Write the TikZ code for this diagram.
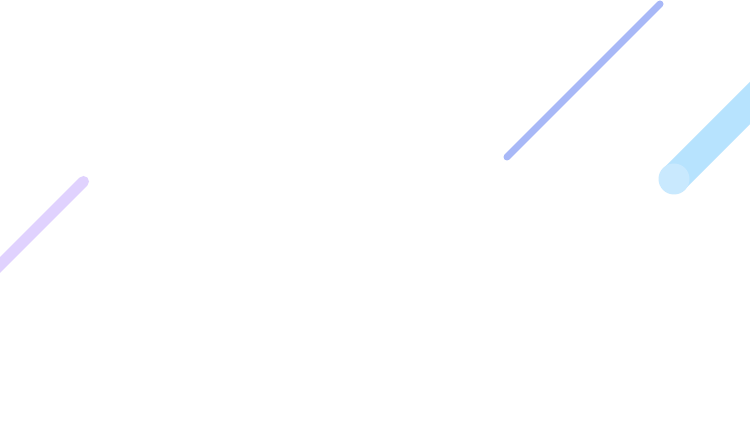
\documentclass[tikz,border=0pt]{standalone}
\definecolor{lineblue}{HTML}{A8B8F7}
\definecolor{linepurple}{HTML}{E0D2FE}
\definecolor{bandblue}{HTML}{B7E3FE}
\definecolor{dotblue}{HTML}{C9E9FE}
\tikzset{streak/.style={line cap=round}}
\begin{document}
\begin{tikzpicture}[x=1pt,y=-1pt]
\useasboundingbox (0,0) rectangle (750,422);
\clip (0,0) rectangle (750,422);
\fill[white] (0,0) rectangle (750,422);
\coordinate (a1) at (507,157);
\coordinate (a2) at (660,4);
\draw[streak, lineblue, line width=7pt] (a1) -- (a2);
\coordinate (b1) at (83.5,181.5);
\coordinate (b2) at (-20,285);
\draw[streak, linepurple, line width=11pt] (b1) -- (b2);
\coordinate (c1) at (674,179);
\coordinate (c2) at (800,53);
\draw[bandblue, line width=30pt] (c1) -- (c2);
\fill[dotblue] (c1) circle (15.5);
\end{tikzpicture}
\end{document}
